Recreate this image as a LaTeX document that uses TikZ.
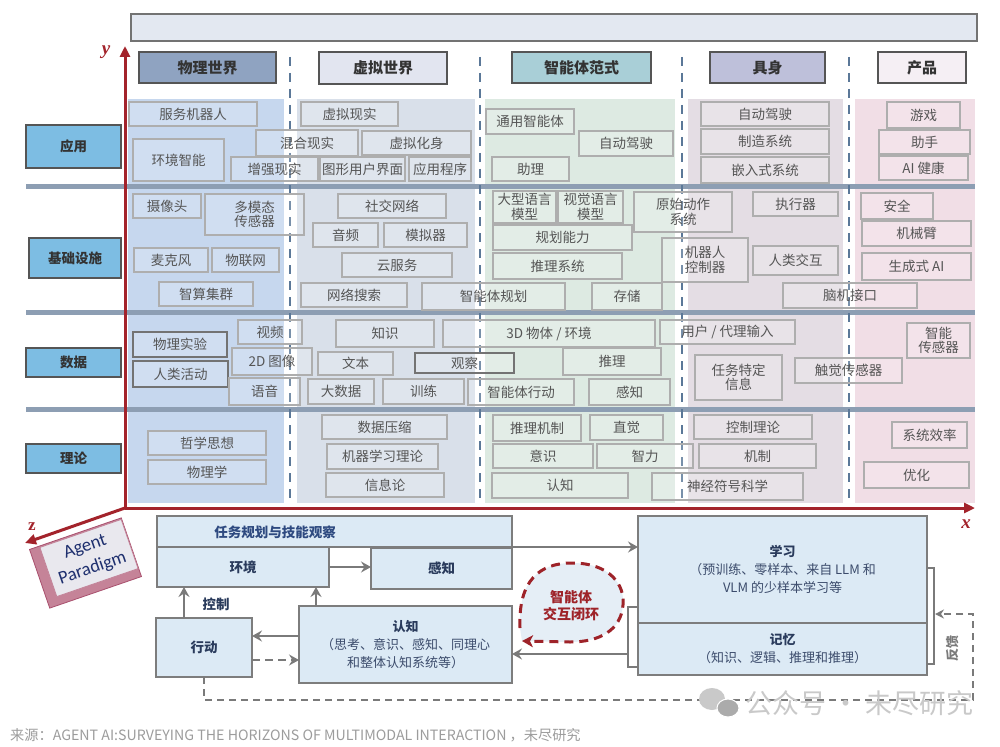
\documentclass[tikz,border=0pt]{standalone}
\usepackage{fontspec}
\setmainfont{Noto Sans CJK SC}
\newfontfamily\axfont{Liberation Serif}
\newfontfamily\apfont{Carlito}
\usetikzlibrary{arrows.meta}
\definecolor{axred}{HTML}{A3232B}
\definecolor{barc}{HTML}{8D9EB3}
\definecolor{sepc}{HTML}{5B7898}
\definecolor{bgA}{HTML}{C6D7EE}
\definecolor{bgB}{HTML}{D9E0EA}
\definecolor{bgC}{HTML}{DDEAE2}
\definecolor{bgD}{HTML}{E4DDE4}
\definecolor{bgE}{HTML}{F1DEE6}
\definecolor{hA}{HTML}{8FA3C1}
\definecolor{hB}{HTML}{E2E5F0}
\definecolor{hC}{HTML}{A9CFD7}
\definecolor{hD}{HTML}{BEC0DA}
\definecolor{hE}{HTML}{F5EFF4}
\definecolor{hdline}{HTML}{555555}
\definecolor{rowc}{HTML}{7DBDE3}
\definecolor{boxline}{HTML}{AEAEAE}
\definecolor{boxtext}{HTML}{555555}
\definecolor{bannerc}{HTML}{E3E8F1}
\definecolor{botfill}{HTML}{DCEAF5}
\definecolor{botline}{HTML}{7D7D7D}
\definecolor{ttl}{HTML}{2A3B5C}
\definecolor{bodyc}{HTML}{3C4C6C}
\definecolor{bandtxt}{HTML}{2E4A80}
\definecolor{arrc}{HTML}{7A7A7A}
\definecolor{loopred}{HTML}{9E2329}
\definecolor{loopfill}{HTML}{E5EEF6}
\definecolor{apface}{HTML}{E9E8EE}
\definecolor{apside}{HTML}{C58398}
\definecolor{apedge}{HTML}{A9506E}
\definecolor{apnavy}{HTML}{1E2F6E}
\definecolor{wm}{HTML}{C9C9C9}
\definecolor{srcc}{HTML}{9C9C9C}
\newcommand\ibox[7][]{\node[ib,#1,minimum width={(#5-#3)*1pt},minimum height={(#6-#4)*1pt}] (#2) at ({(#3+#5)/2},{(#4+#6)/2}) {#7};}
\begin{document}
\begin{tikzpicture}[x=1pt,y=-1pt,
  ib/.style={draw=boxline,line width=1.1pt,fill=white,fill opacity=0.18,text opacity=1,text=boxtext,inner sep=0pt,outer sep=0pt,align=center,font=\fontsize{13.5}{14.5}\selectfont},
  ibd/.style={draw=black!55},
  hd/.style={draw=hdline,line width=2.6pt,fill opacity=1,text=black!80,font=\bfseries\fontsize{15}{15}\selectfont},
  rl/.style={draw=hdline,line width=2.6pt,fill=rowc,fill opacity=1,text=black!80,font=\bfseries\fontsize{13.5}{14}\selectfont},
  bb/.style={draw=botline,line width=2pt,fill=botfill,fill opacity=1,text=bodyc,font=\fontsize{13}{18}\selectfont},
  tt/.style={text=ttl,font=\bfseries\fontsize{13.5}{18}\selectfont},
  arr/.style={draw=arrc,line width=2.4pt,-{Stealth[length=10pt,width=11pt,inset=3.5pt]}},
  darr/.style={arr,dash pattern=on 8pt off 5pt},
  axis/.style={draw=axred,line width=3pt,-{Triangle[length=11pt,width=10pt]}},
  axlab/.style={text=axred,font=\axfont\bfseries\itshape\fontsize{19}{19}\selectfont,inner sep=0pt},
]
\useasboundingbox (0,0) rectangle (1000,746);
\fill[white] (0,0) rectangle (1000,746);
% banner
\ibox[draw=black!55,line width=2.2pt,fill=bannerc,fill opacity=1]{banner}{131}{14}{977}{41}{}
% column backgrounds
\fill[bgA] (128,99) rectangle (284,503);
\fill[bgB] (297,99) rectangle (475,503);
\fill[bgC] (485,99) rectangle (675,503);
\fill[bgD] (688,99) rectangle (843,503);
\fill[bgE] (855,99) rectangle (975,503);
% row bars
\foreach \yy in {186,312,409} \draw[barc,line width=5pt] (26,\yy) -- (975,\yy);
% column separators
\foreach \xx in {290,480,682,849} \draw[sepc,line width=2.6pt,dash pattern=on 9pt off 7pt] (\xx,57) -- (\xx,503);
% headers
\ibox[hd,fill=hA]{hphys}{139}{52}{276}{83}{物理世界}
\ibox[hd,fill=hB]{hvirt}{319}{52}{447}{84}{虚拟世界}
\ibox[hd,fill=hC]{hagent}{512}{52}{651}{83}{智能体范式}
\ibox[hd,fill=hD]{hemb}{710}{52}{825}{83}{具身}
\ibox[hd,fill=hE]{hprod}{878}{52}{966}{83}{产品}
% row labels
\ibox[rl]{rapp}{26}{125}{121}{168}{应用}
\ibox[rl]{rinf}{29}{238}{121}{278}{基础设施}
\ibox[rl]{rdat}{26}{348}{121}{377}{数据}
\ibox[rl]{rthe}{26}{444}{121}{473}{理论}
% application row
\ibox{a1}{129}{102}{257}{126}{服务机器人}
\ibox{a2}{133}{139}{224}{181}{环境智能}
\ibox{a3}{256}{130}{358}{156}{混合现实}
\ibox{a4}{231}{157}{318}{181}{增强现实}
\ibox{a5}{301}{102}{398}{126}{虚拟现实}
\ibox{a6}{362}{131}{471}{155}{虚拟化身}
\ibox{a7}{320}{157}{405}{181}{图形用户界面}
\ibox{a8}{409}{157}{471}{181}{应用程序}
\ibox{a9}{486}{109}{574}{134}{通用智能体}
\ibox{a10}{579}{131}{673}{156}{自动驾驶}
\ibox{a11}{492}{157}{569}{181}{助理}
\ibox{a12}{701}{102}{829}{126}{自动驾驶}
\ibox{a13}{701}{129}{829}{154}{制造系统}
\ibox{a14}{701}{157}{829}{183}{嵌入式系统}
\ibox{a15}{887}{102}{960}{128}{游戏}
\ibox{a16}{879}{130}{970}{154}{助手}
\ibox{a17}{879}{156}{968}{180}{AI 健康}
% infrastructure row
\ibox{b1}{133}{194}{201}{218}{摄像头}
\ibox{b2}{205}{194}{304}{235}{多模态\\传感器}
\ibox{b3}{134}{248}{208}{272}{麦克风}
\ibox{b4}{212}{248}{279}{272}{物联网}
\ibox{b5}{159}{282}{253}{306}{智算集群}
\ibox{b6}{338}{194}{446}{218}{社交网络}
\ibox{b7}{313}{223}{378}{247}{音频}
\ibox{b8}{384}{223}{467}{247}{模拟器}
\ibox{b9}{342}{253}{452}{277}{云服务}
\ibox{b10}{301}{283}{407}{307}{网络搜索}
\ibox{b11}{422}{283}{565}{310}{智能体规划}
\ibox{b12}{493}{191}{556}{223}{大型语言\\模型}
\ibox{b13}{558}{191}{623}{223}{视觉语言\\模型}
\ibox{b14}{634}{192}{732}{232}{原始动作\\系统}
\ibox{b15}{493}{225}{632}{250}{规划能力}
\ibox{b16}{493}{253}{622}{279}{推理系统}
\ibox{b17}{662}{238}{748}{282}{机器人\\控制器}
\ibox{b18}{592}{283}{662}{310}{存储}
\ibox{b19}{753}{192}{838}{216}{执行器}
\ibox{b20}{753}{246}{838}{275}{人类交互}
\ibox{b21}{783}{283}{917}{308}{脑机接口}
\ibox{b22}{861}{193}{933}{219}{安全}
\ibox{b23}{862}{221}{971}{246}{机械臂}
\ibox{b24}{862}{253}{971}{280}{生成式 AI}
% data row
\ibox[ibd]{c1}{133}{332}{227}{357}{物理实验}
\ibox[ibd]{c2}{133}{361}{228}{387}{人类活动}
\ibox{c3}{238}{320}{302}{344}{视频}
\ibox{c4}{232}{348}{312}{375}{2D 图像}
\ibox{c5}{229}{378}{300}{405}{语音}
\ibox{c6}{336}{320}{434}{347}{知识}
\ibox{c7}{318}{352}{393}{375}{文本}
\ibox{c8}{308}{379}{374}{404}{大数据}
\ibox{c9}{383}{379}{464}{404}{训练}
\ibox[ibd]{c10}{415}{353}{514}{373}{观察}
\ibox{c11}{443}{320}{655}{347}{3D 物体 / 环境}
\ibox{c12}{563}{348}{661}{375}{推理}
\ibox{c13}{468}{379}{574}{405}{智能体行动}
\ibox{c14}{589}{379}{670}{405}{感知}
\ibox{c15}{660}{320}{795}{344}{用户 / 代理输入}
\ibox{c16}{695}{355}{782}{400}{任务特定\\信息}
\ibox{c17}{795}{358}{902}{383}{触觉传感器}
\ibox{c18}{907}{323}{970}{358}{智能\\传感器}
% theory row
\ibox{d1}{148}{431}{266}{455}{哲学思想}
\ibox{d2}{148}{460}{266}{484}{物理学}
\ibox{d3}{322}{415}{447}{439}{数据压缩}
\ibox{d4}{327}{444}{438}{469}{机器学习理论}
\ibox{d5}{326}{473}{444}{497}{信息论}
\ibox{d6}{493}{415}{581}{441}{推理机制}
\ibox{d7}{590}{415}{663}{440}{直觉}
\ibox{d8}{493}{444}{593}{468}{意识}
\ibox{d9}{597}{444}{693}{468}{智力}
\ibox{d10}{492}{473}{628}{498}{认知}
\ibox{d11}{694}{415}{812}{439}{控制理论}
\ibox{d12}{699}{444}{816}{468}{机制}
\ibox{d13}{652}{473}{803}{500}{神经符号科学}
\ibox{d14}{892}{422}{967}{448}{系统效率}
\ibox{d15}{864}{462}{969}{488}{优化}
% axes
\coordinate (O) at (125,508);
\coordinate (ytip) at (125,46);
\coordinate (xtip) at (975,508);
\coordinate (ztip) at (25,543);
\draw[axis] (O) -- (ytip);
\draw[axis] (O) -- (xtip);
\draw[axis] (O) -- (ztip);
\node[axlab] (ylab) at (106,52) {y};
\node[axlab] (xlab) at (966,524) {x};
\node[axlab,font=\axfont\bfseries\fontsize{17}{17}\selectfont] (zlab) at (32,527) {z};
% bottom section
\ibox[bb]{band}{157}{516}{512}{547}{}
\node[text=bandtxt,font=\bfseries\fontsize{13.5}{14}\selectfont] (bandt) at (275,532) {任务规划与技能观察};
\ibox[bb,tt]{env}{157}{547}{329}{587}{环境}
\ibox[bb,tt]{perc}{371}{548}{512}{589}{感知}
\ibox[bb,tt]{act}{156}{618}{252}{677}{行动}
\ibox[bb]{cog}{299}{606}{512}{683}{\textcolor{ttl}{\bfseries 认知}\\（思考、意识、感知、同理心\\和整体认知系统等）}
\ibox[bb]{learn}{638}{516}{927}{623}{\textcolor{ttl}{\bfseries 学习}\\（预训练、零样本、来自 LLM 和\\VLM 的少样本学习等}
\ibox[bb]{mem}{638}{623}{927}{675}{\textcolor{ttl}{\bfseries 记忆}\\（知识、逻辑、推理和推理）}
\draw[arr] (env.east) -- (env.east -| perc.west);
\draw[arr] (band.south east) -- (band.south east -| learn.west);
\draw[arr] ([yshift=8.5pt]cog.west) -- ([yshift=8.5pt]cog.west -| act.east);
\draw[darr] ([yshift=-12.5pt]act.east) -- ([yshift=-12.5pt]act.east -| cog.west);
\draw[arr] ([xshift=-20pt]act.north) -- ([xshift=-20pt]act.north |- env.south);
\draw[arr] ([xshift=-89.5pt]cog.north) -- ([xshift=-89.5pt]cog.north |- env.south);
\node[tt] (ctrl) at (216,604) {控制};
% brackets
\draw[arrc,line width=2pt] (638,607) -- (628,607) -- (628,667) -- (638,667);
\draw[arrc,line width=2pt] (927,568) -- (934,568) -- (934,664) -- (927,664);
\coordinate (lbm) at (628,654);
\draw[arr] (lbm) -- (lbm -| cog.east);
% feedback
\coordinate (fbA) at (973,700);
\coordinate (rbm) at (935,614);
\draw[arr,line width=2pt,dash pattern=on 7pt off 5pt,-{Stealth[length=9pt,width=9pt,inset=3pt]}] (act.south) |- (fbA) |- (rbm);
\node[rotate=90,text=arrc,font=\bfseries\fontsize{13}{13}\selectfont] (fbl) at (953,648) {反馈};
% interaction loop
\fill[loopfill] (520,628) .. controls (518,580) and (540,563) .. (572,563) .. controls (610,563) and (625,585) .. (623,605) .. controls (621,630) and (600,642) .. (570,642) -- (522,641) -- cycle;
\draw[loopred,line width=3pt,dash pattern=on 9pt off 6pt,-{Stealth[length=11pt,width=12pt,inset=3pt]}] (520,628) .. controls (518,580) and (540,563) .. (572,563) .. controls (610,563) and (625,585) .. (623,605) .. controls (621,630) and (600,642) .. (570,642) -- (522,641);
\node[align=center,text=loopred,font=\bfseries\fontsize{14}{17}\selectfont] (loop) at (571,606) {智能体\\交互闭环};
% agent paradigm block
\node[rotate=19,fill=apside,draw=apedge,line width=0.8pt,minimum width=97pt,minimum height=62pt,inner sep=0pt] (apb) at (85.5,563) {};
\node[rotate=19,fill=apface,draw=apedge!70,line width=0.8pt,minimum width=86pt,minimum height=52pt,inner sep=0pt,align=center,text=apnavy,font=\apfont\fontsize{18.5}{23}\selectfont] (ap) at (89,558) {Agent\\Paradigm};
% watermark and source
\fill[wm] (712,699) ellipse (13 and 11);
\filldraw[fill=wm!85!black,draw=white,line width=1pt] (728,708) ellipse (11 and 9);
\node[anchor=west,text=wm,font=\fontsize{27}{27}\selectfont,inner sep=0pt] (wmt) at (745,703) {公众号 · 未尽研究};
\node[anchor=west,text=srcc,font=\fontsize{14.2}{14.2}\selectfont,inner sep=0pt] (src) at (10,735) {来源：AGENT AI:SURVEYING THE HORIZONS OF MULTIMODAL INTERACTION ，未尽研究};
\end{tikzpicture}
\end{document}
